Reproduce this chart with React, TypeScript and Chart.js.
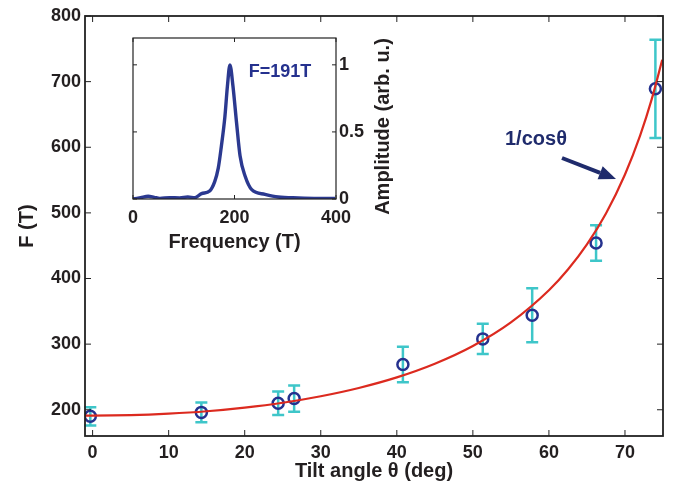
import React, { useEffect, useRef } from 'react';
import { Chart, registerables } from 'chart.js';

Chart.register(...registerables);

// ---- Main plot data ----
const tiltAngles = [-0.3, 14.3, 24.4, 26.5, 40.8, 51.3, 57.8, 66.2, 74.0];
const freqValues = [190, 196, 210, 217, 269, 308, 344, 454, 689];
const freqErrors = [14, 15, 18, 20, 27, 23, 41, 27, 75];

// 1/cos(theta) fit curve (F0 = 191 T)
const fitAngles = [-1, 0, 5, 10, 15, 20, 25, 30, 35, 40, 45, 50, 55, 60, 62.5, 65, 67.5, 70, 72, 73.5, 74.9];
const fitValues = [191.0, 191.0, 191.7, 194.0, 197.7, 203.3, 210.7, 220.6, 233.2, 249.3, 270.1, 297.1, 333.0, 382.0, 413.6, 451.9, 499.1, 558.5, 618.1, 672.5, 733.2];

const xTickValues = [0, 10, 20, 30, 40, 50, 60, 70];
const yTickValues = [200, 300, 400, 500, 600, 700, 800];

// ---- Inset spectrum data ----
const specFreq = [0, 15, 30, 42, 53, 72, 92, 108, 122, 135, 151, 161, 168, 174, 181, 186, 191, 197, 204, 211, 221, 234, 260, 286, 326, 365, 398];
const specAmp = [0.0, 0.01, 0.02, 0.012, 0.005, 0.01, 0.008, 0.015, 0.01, 0.04, 0.06, 0.13, 0.23, 0.39, 0.61, 0.84, 1.0, 0.84, 0.57, 0.32, 0.17, 0.07, 0.035, 0.015, 0.008, 0.005, 0.005];
const insetXTicks = [0, 200, 400];
const insetYTicks = [0, 0.5, 1];

const FONT = '"Liberation Sans", Arial, Helvetica, sans-serif';
const TEXT = '#231f20';
const RED = '#dc2a1f';
const CYAN = '#3ec6c9';
const NAVY = '#25318e';
const ARROW = '#1f2b6c';

const W = 674;
const H = 485;

function fixedTicks(values: number[]) {
  return (axis: any) => {
    axis.ticks = values.map((v) => ({ value: v }));
  };
}

const mainPlugin = {
  id: 'mainDecor',
  beforeDatasetsDraw(chart: any) {
    const ctx = chart.ctx;
    const xs = chart.scales.x;
    const ys = chart.scales.y;
    ctx.save();
    ctx.strokeStyle = CYAN;
    ctx.lineWidth = 2.5;
    const cap = 6;
    for (let i = 0; i < tiltAngles.length; i++) {
      const px = xs.getPixelForValue(tiltAngles[i]);
      const top = ys.getPixelForValue(freqValues[i] + freqErrors[i]);
      const bot = ys.getPixelForValue(freqValues[i] - freqErrors[i]);
      ctx.beginPath();
      ctx.moveTo(px, top);
      ctx.lineTo(px, bot);
      ctx.moveTo(px - cap, top);
      ctx.lineTo(px + cap, top);
      ctx.moveTo(px - cap, bot);
      ctx.lineTo(px + cap, bot);
      ctx.stroke();
    }
    ctx.restore();
  },
  afterDraw(chart: any) {
    const ctx = chart.ctx;
    const a = chart.chartArea;
    const xs = chart.scales.x;
    const ys = chart.scales.y;
    ctx.save();
    ctx.strokeStyle = '#222';
    ctx.lineWidth = 1.8;
    ctx.strokeRect(a.left, a.top, a.right - a.left, a.bottom - a.top);
    const tl = 6;
    ctx.lineWidth = 1;
    ctx.beginPath();
    xTickValues.forEach((v) => {
      const px = xs.getPixelForValue(v);
      ctx.moveTo(px, a.bottom);
      ctx.lineTo(px, a.bottom - tl);
      ctx.moveTo(px, a.top);
      ctx.lineTo(px, a.top + tl);
    });
    yTickValues.forEach((v) => {
      const py = ys.getPixelForValue(v);
      ctx.moveTo(a.left, py);
      ctx.lineTo(a.left + tl, py);
      ctx.moveTo(a.right, py);
      ctx.lineTo(a.right - tl, py);
    });
    ctx.stroke();

    ctx.fillStyle = TEXT;
    ctx.font = `bold 20px ${FONT}`;
    ctx.textAlign = 'center';
    ctx.textBaseline = 'middle';
    ctx.fillText('Tilt angle θ (deg)', (a.left + a.right) / 2, 471);
    ctx.save();
    ctx.translate(27, (a.top + a.bottom) / 2);
    ctx.rotate(-Math.PI / 2);
    ctx.fillText('F (T)', 0, 0);
    ctx.restore();

    ctx.fillStyle = ARROW;
    ctx.textAlign = 'left';
    ctx.fillText('1/cosθ', 505, 139);
    const x1 = 562, y1 = 158, x2 = 616, y2 = 179;
    const ang = Math.atan2(y2 - y1, x2 - x1);
    const hl = 17, hw = 7;
    const bx = x2 - hl * Math.cos(ang);
    const by = y2 - hl * Math.sin(ang);
    ctx.strokeStyle = ARROW;
    ctx.lineWidth = 4;
    ctx.beginPath();
    ctx.moveTo(x1, y1);
    ctx.lineTo(bx, by);
    ctx.stroke();
    ctx.beginPath();
    ctx.moveTo(x2, y2);
    ctx.lineTo(bx + hw * Math.sin(ang), by - hw * Math.cos(ang));
    ctx.lineTo(bx - hw * Math.sin(ang), by + hw * Math.cos(ang));
    ctx.closePath();
    ctx.fill();
    ctx.restore();
  },
};

const insetPlugin = {
  id: 'insetDecor',
  beforeDraw(chart: any) {
    const ctx = chart.ctx;
    const a = chart.chartArea;
    ctx.save();
    ctx.fillStyle = '#ffffff';
    ctx.fillRect(a.left, a.top, a.right - a.left, a.bottom - a.top);
    ctx.restore();
  },
  afterDraw(chart: any) {
    const ctx = chart.ctx;
    const a = chart.chartArea;
    const xs = chart.scales.x;
    const ys = chart.scales.y;
    ctx.save();
    ctx.strokeStyle = '#222';
    ctx.lineWidth = 1.2;
    ctx.strokeRect(a.left, a.top, a.right - a.left, a.bottom - a.top);
    const tl = 4;
    ctx.lineWidth = 1;
    ctx.beginPath();
    insetXTicks.forEach((v) => {
      const px = xs.getPixelForValue(v);
      ctx.moveTo(px, a.bottom);
      ctx.lineTo(px, a.bottom - tl);
      ctx.moveTo(px, a.top);
      ctx.lineTo(px, a.top + tl);
    });
    insetYTicks.forEach((v) => {
      const py = ys.getPixelForValue(v);
      ctx.moveTo(a.left, py);
      ctx.lineTo(a.left + tl, py);
      ctx.moveTo(a.right, py);
      ctx.lineTo(a.right - tl, py);
    });
    ctx.stroke();

    ctx.fillStyle = TEXT;
    ctx.font = `bold 20px ${FONT}`;
    ctx.textAlign = 'center';
    ctx.textBaseline = 'middle';
    ctx.fillText('Frequency (T)', (a.left + a.right) / 2, 242);
    ctx.save();
    ctx.translate(383, (a.top + a.bottom) / 2 + 8);
    ctx.rotate(-Math.PI / 2);
    ctx.fillText('Amplitude (arb. u.)', 0, 0);
    ctx.restore();

    ctx.fillStyle = NAVY;
    ctx.font = `bold 18px ${FONT}`;
    ctx.fillText('F=191T', 280, 72);
    ctx.restore();
  },
};

export default function App() {
  const mainRef = useRef<HTMLCanvasElement | null>(null);
  const insetRef = useRef<HTMLCanvasElement | null>(null);

  useEffect(() => {
    document.body.style.margin = '0';
    const tickFont = { family: FONT, size: 18, weight: 'bold' as const };

    const main = new Chart(mainRef.current as HTMLCanvasElement, {
      type: 'scatter',
      data: {
        datasets: [
          {
            label: 'fit',
            data: fitAngles.map((x, i) => ({ x, y: fitValues[i] })),
            showLine: true,
            borderColor: RED,
            borderWidth: 2.2,
            pointRadius: 0,
            cubicInterpolationMode: 'monotone',
          } as any,
          {
            label: 'data',
            data: tiltAngles.map((x, i) => ({ x, y: freqValues[i] })),
            showLine: false,
            pointRadius: 5.5,
            pointBorderWidth: 2.5,
            pointBorderColor: NAVY,
            pointBackgroundColor: 'rgba(0,0,0,0)',
          },
        ],
      },
      options: {
        animation: false,
        responsive: false,
        devicePixelRatio: 1,
        layout: { padding: { left: 0, top: 16, right: 11, bottom: 0 } },
        plugins: { legend: { display: false }, tooltip: { enabled: false } },
        scales: {
          x: {
            type: 'linear',
            min: -1,
            max: 75,
            afterBuildTicks: fixedTicks(xTickValues),
            afterFit: (s: any) => { s.height = 49; },
            grid: { display: false, drawTicks: false },
            border: { display: false },
            ticks: { font: tickFont, color: TEXT, padding: 6, maxRotation: 0 },
          },
          y: {
            type: 'linear',
            min: 160,
            max: 800,
            afterBuildTicks: fixedTicks(yTickValues),
            afterFit: (s: any) => { s.width = 85; },
            grid: { display: false, drawTicks: false },
            border: { display: false },
            ticks: { font: tickFont, color: TEXT, padding: 4 },
          },
        },
      },
      plugins: [mainPlugin],
    });

    const inset = new Chart(insetRef.current as HTMLCanvasElement, {
      type: 'scatter',
      data: {
        datasets: [
          {
            label: 'spectrum',
            data: specFreq.map((x, i) => ({ x, y: specAmp[i] })),
            showLine: true,
            borderColor: '#2b3990',
            borderWidth: 3.4,
            pointRadius: 0,
            cubicInterpolationMode: 'monotone',
          } as any,
        ],
      },
      options: {
        animation: false,
        responsive: false,
        devicePixelRatio: 1,
        layout: { padding: { left: 133, top: 38, right: 288, bottom: 246 } },
        plugins: { legend: { display: false }, tooltip: { enabled: false } },
        scales: {
          x: {
            type: 'linear',
            min: 0,
            max: 400,
            afterBuildTicks: fixedTicks(insetXTicks),
            afterFit: (s: any) => { s.height = 40; },
            grid: { display: false, drawTicks: false },
            border: { display: false },
            ticks: { font: tickFont, color: TEXT, padding: 8, maxRotation: 0 },
          },
          y: {
            type: 'linear',
            position: 'right',
            min: 0,
            max: 1.2,
            afterBuildTicks: fixedTicks(insetYTicks),
            afterFit: (s: any) => { s.width = 50; },
            grid: { display: false, drawTicks: false },
            border: { display: false },
            ticks: {
              font: tickFont,
              color: TEXT,
              padding: 3,
              callback: (v: any) => String(v),
            },
          },
        },
      },
      plugins: [insetPlugin],
    });

    return () => {
      main.destroy();
      inset.destroy();
    };
  }, []);

  return (
    <div style={{ position: 'relative', width: W, height: H, background: '#fff' }}>
      <canvas ref={mainRef} width={W} height={H} style={{ position: 'absolute', left: 0, top: 0 }} />
      <canvas ref={insetRef} width={W} height={H} style={{ position: 'absolute', left: 0, top: 0 }} />
    </div>
  );
}
